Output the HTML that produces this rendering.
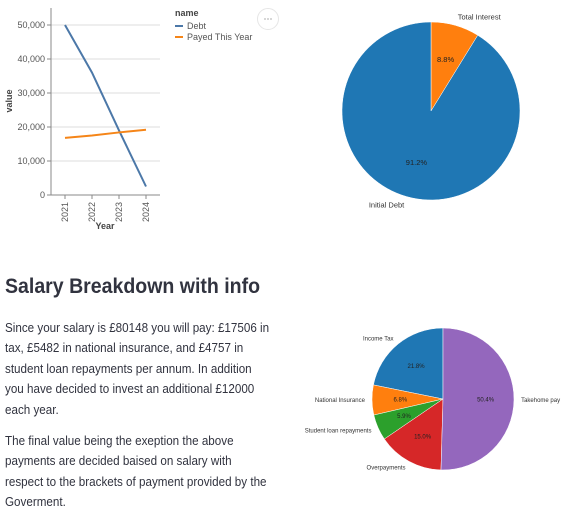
<!DOCTYPE html>
<html><head><meta charset="utf-8">
<style>
body{margin:0;width:579px;height:515px;background:#fff;font-family:"Liberation Sans",sans-serif;color:#31333f;position:relative;overflow:hidden}
svg{position:absolute;left:0;top:0}
.h{position:absolute;left:5px;top:275px;font-size:21px;font-weight:bold;white-space:nowrap;transform:scaleX(0.93);transform-origin:left top}
.p{position:absolute;left:5px;font-size:12.8px;line-height:20.4px;white-space:nowrap;transform:scaleX(0.91);transform-origin:left top}
</style></head><body>
<svg width="579" height="515" id="chart"></svg>
<div class="h">Salary Breakdown with info</div>
<div class="p" style="top:318px">Since your salary is £80148 you will pay: £17506 in<br>tax, £5482 in national insurance, and £4757 in<br>student loan repayments per annum. In addition<br>you have decided to invest an additional £12000<br>each year.</div>
<div class="p" style="top:431px">The final value being the exeption the above<br>payments are decided baised on salary with<br>respect to the brackets of payment provided by the<br>Goverment.</div>
<script>
const years=["2021","2022","2023","2024"];
const debt=[50000,36000,19000,2500];
const payed=[16800,17500,18400,19200];
const yTicks=[0,10000,20000,30000,40000,50000];
const loanLabels=["Total Interest","Initial Debt"];
const loanValues=[8.8,91.2];
const salaryLabels=["Income Tax","National Insurance","Student loan repayments","Overpayments","Takehome pay"];
const salaryValues=[21.8,6.8,5.9,15.0,50.4];

const NS="http://www.w3.org/2000/svg";
const svg=document.getElementById('chart');
function mk(t,a,p){const e=document.createElementNS(NS,t);for(const k in a)e.setAttribute(k,a[k]);(p||svg).appendChild(e);return e;}
const x0=51,x1=160,yb=195,yt=8,ymax=55000;
const xs=i=>65+i*(146-65)/(years.length-1);
const ys=v=>yb-(v/ymax)*(yb-yt);
const lg=mk('g',{});


yTicks.forEach(v=>{
  const l=mk('line',{x1:x0,x2:x1,y1:ys(v),y2:ys(v),stroke:'#ddd','stroke-width':1},lg);
  
  
  mk('line',{x1:x0-4,x2:x0,y1:ys(v),y2:ys(v),stroke:'#888'},lg);
  const t=mk('text',{x:x0-6,y:ys(v)+3,'text-anchor':'end','font-size':9,fill:'#555'},lg);
  t.textContent=v.toLocaleString('en-US');
  
  
});
mk('line',{x1:x0,x2:x0,y1:yt,y2:yb,stroke:'#888'},lg);
mk('line',{x1:x0,x2:x1,y1:yb,y2:yb,stroke:'#888'},lg);
years.forEach((y,i)=>{
  mk('line',{x1:xs(i),x2:xs(i),y1:yb,y2:yb+4,stroke:'#888'},lg);
  const t=mk('text',{transform:`translate(${xs(i)+3},${yb+7}) rotate(-90)`,'text-anchor':'end','font-size':9,fill:'#555'},lg);
  t.textContent=y;
  
  
});
let t=mk('text',{x:105,y:229,'text-anchor':'middle','font-size':9,'font-weight':'bold',fill:'#444'},lg);t.textContent='Year';

t=mk('text',{transform:'translate(12,101) rotate(-90)','text-anchor':'middle','font-size':9,'font-weight':'bold',fill:'#444'},lg);t.textContent='value';

[[debt,'#4c78a8','debt-line'],[payed,'#f58518','payed-line']].forEach(([d,c,n])=>{
  const p=mk('path',{d:d.map((v,i)=>(i?'L':'M')+xs(i)+','+ys(v)).join(''),stroke:c,'stroke-width':2,fill:'none'},lg);
  
  
});
t=mk('text',{x:175,y:16,'font-size':9,'font-weight':'bold',fill:'#444'},lg);t.textContent='name';

[['Debt','#4c78a8'],['Payed This Year','#f58518']].forEach(([n,c],i)=>{
  const y=26+i*11;
  mk('line',{x1:175,x2:183,y1:y,y2:y,stroke:c,'stroke-width':2},lg);
  const tt=mk('text',{x:187,y:y+3,'font-size':9,fill:'#555'},lg);tt.textContent=n;
  
  
});
const menu=mk('g',{});


mk('circle',{cx:268,cy:19,r:10.5,fill:'#fff',stroke:'#e6e6e6'},menu);
[-3,0,3].forEach(d=>mk('circle',{cx:268+d,cy:19,r:0.9,fill:'#bbb'},menu));

function pie(name,cx,cy,r,vals,cols,dir,labels,lpos,ppos,fs){
  const g=mk('g',{});
  
  
  const tot=vals.reduce((a,b)=>a+b,0);
  let a=-Math.PI/2;
  vals.forEach((v,i)=>{
    const da=dir*v/tot*2*Math.PI, b=a+da;
    const large=Math.abs(da)>Math.PI?1:0, sw=dir>0?1:0;
    const p=mk('path',{d:`M${cx},${cy}L${cx+r*Math.cos(a)},${cy+r*Math.sin(a)}A${r},${r} 0 ${large} ${sw} ${cx+r*Math.cos(b)},${cy+r*Math.sin(b)}Z`,fill:cols[i],stroke:'#fff','stroke-width':0.5},g);
    
    
    const m=(a+b)/2;
    const pt=mk('text',{x:cx+ppos*r*Math.cos(m),y:cy+ppos*r*Math.sin(m)+fs/3,'text-anchor':'middle','font-size':fs,fill:'#222'},g);
    pt.textContent=v.toFixed(1)+'%';
    
    
    const lx=cx+lpos*r*Math.cos(m), ly=cy+lpos*r*Math.sin(m);
    const lt=mk('text',{x:lx,y:ly+fs/3,'text-anchor':Math.abs(Math.cos(m))<0.1?'middle':(Math.cos(m)>0?'start':'end'),'font-size':fs,fill:'#333'},g);
    lt.textContent=labels[i];
    
    
    a=b;
  });
}
pie('loan-pie',431,111,89,loanValues,['#ff7f0e','#1f77b4'],1,loanLabels,1.1,0.6,7.5);
pie('salary-pie',443,399,71,salaryValues,['#1f77b4','#ff7f0e','#2ca02c','#d62728','#9467bd'],-1,salaryLabels,1.1,0.6,6);
</script>
</body></html>
